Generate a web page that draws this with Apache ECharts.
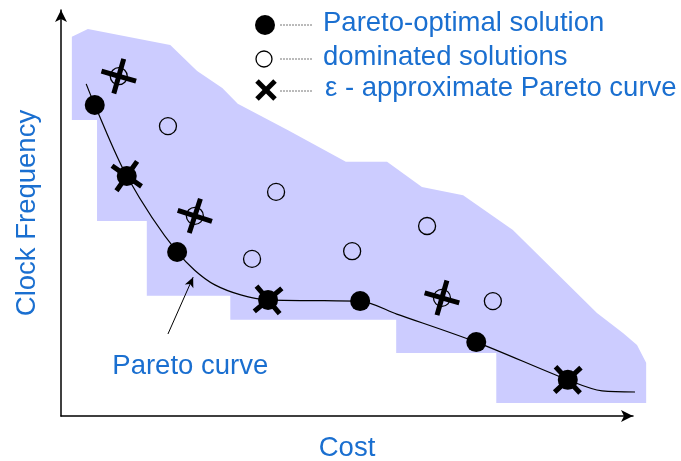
<!DOCTYPE html>
<html>
<head>
<meta charset="utf-8">
<script src="https://cdn.jsdelivr.net/npm/echarts@6/dist/echarts.min.js"></script>
<style>html,body{margin:0;padding:0;background:#fff}#c{width:681px;height:461px}</style>
</head>
<body>
<div id="c"></div>
<script>
// ---- data (arbitrary units: Cost 0..100, Clock Frequency 0..100) ----
var xAxisName = 'Cost';
var yAxisName = 'Clock Frequency';
var legendLabels = ['Pareto-optimal solution', 'dominated solutions', 'ε - approximate Pareto curve'];
var annotationText = 'Pareto curve';

var paretoOptimal = [[5.9,76.6],[11.5,59.1],[20.3,40.4],[36.2,28.6],[52.3,28.3],[72.6,18.2],[88.6,8.9]];
var dominated = [[10.1,83.7],[18.7,71.4],[23.4,49.3],[37.6,55.2],[33.4,38.7],[50.9,40.6],[64.0,46.8],[66.6,29.1],[75.5,28.3]];
var epsApprox = [[10.1,83.7],[11.5,59.1],[23.4,49.3],[36.2,28.6],[66.6,29.1],[88.6,8.9]];
var paretoCurve = [[4.4,81.8],[5.9,76.6],[11.5,59.1],[20.3,40.4],[26.9,32.3],[36.2,28.6],[46.0,28.4],[52.3,28.3],[58.7,25.1],[72.6,18.2],[88.6,8.9],[94.6,6.2],[101.7,5.9]];
var feasibleRegion = [[1.9,93.4],[4.7,95.3],[19.1,91.4],[23.8,85.0],[28.2,80.8],[30.9,76.9],[39.7,70.4],[49.8,62.6],[57.0,62.6],[63.1,56.4],[70.3,54.4],[79.0,45.8],[93.7,25.4],[98.3,20.4],[100.7,17.5],[102.3,13.1],[102.3,3.2],[76.1,3.2],[76.1,15.5],[58.6,15.5],[58.6,23.7],[29.6,23.7],[29.6,29.6],[15.0,29.6],[15.0,48.0],[6.3,48.0],[6.3,72.9],[1.9,72.9]];
var annotationArrow = [[18.7,20.2],[23.1,34.2]];
var annotationPos = [22.6,12.3];

// ---- styles ----
var BLUE = '#1a6fd0';
var FONT = 'Liberation Sans, Arial, Helvetica, sans-serif';
var FS = 27.5;
var epsTilt = [-16,-35,-18,-50,-16,-47];
var plusPath = 'path://M-2.5,-18 L2.5,-18 L2.5,-2.5 L18,-2.5 L18,2.5 L2.5,2.5 L2.5,18 L-2.5,18 L-2.5,2.5 L-18,2.5 L-18,-2.5 L-2.5,-2.5 Z';

var chart = echarts.init(document.getElementById('c'), null, {renderer: 'canvas'});

var option = {
  animation: false,
  backgroundColor: '#fff',
  grid: {left: 61, right: 48, top: 10, bottom: 45, containLabel: false, outerBoundsMode: 'none'},
  xAxis: {
    type: 'value', min: 0, max: 100,
    name: xAxisName, nameLocation: 'middle', nameGap: 18,
    nameTextStyle: {color: BLUE, fontSize: FS, fontFamily: FONT},
    axisLine: {show: true, lineStyle: {color: '#000', width: 1.5}, symbol: ['none','arrow'], symbolSize: [9,12]},
    axisTick: {show: false}, axisLabel: {show: false}, splitLine: {show: false}
  },
  yAxis: {
    type: 'value', min: 0, max: 100,
    name: yAxisName, nameLocation: 'middle', nameGap: 20,
    nameTextStyle: {color: BLUE, fontSize: FS, fontFamily: FONT},
    axisLine: {show: true, lineStyle: {color: '#000', width: 1.5}, symbol: ['none','arrow'], symbolSize: [9,12]},
    axisTick: {show: false}, axisLabel: {show: false}, splitLine: {show: false}
  },
  series: [
    {
      type: 'custom',
      name: 'feasible region',
      clip: false,
      silent: true,
      z: 1,
      data: [0],
      renderItem: function (params, api) {
        var pts = feasibleRegion.map(function (p) { return api.coord(p); });
        return {type: 'polygon', shape: {points: pts}, style: {fill: '#ccccff'}};
      }
    },
    {
      type: 'line',
      name: 'Pareto curve',
      data: paretoCurve,
      smooth: 0.3,
      showSymbol: false,
      clip: false,
      z: 2,
      lineStyle: {color: '#000', width: 1.2},
      markLine: {
        silent: true,
        symbol: ['none','arrow'],
        symbolSize: [7,10],
        lineStyle: {color: '#000', width: 1, type: 'solid'},
        label: {show: false},
        data: [[{coord: annotationArrow[0]}, {coord: annotationArrow[1]}]]
      },
      markPoint: {
        silent: true,
        symbol: 'circle', symbolSize: 0,
        label: {show: true, position: 'inside', formatter: annotationText, color: BLUE, fontSize: FS, fontFamily: FONT},
        data: [{coord: annotationPos}]
      }
    },
    {
      type: 'scatter',
      name: legendLabels[1],
      data: dominated,
      symbol: 'circle',
      symbolSize: 17,
      z: 3,
      itemStyle: {color: 'rgba(0,0,0,0)', borderColor: '#000', borderWidth: 1.3, opacity: 1}
    },
    {
      type: 'scatter',
      name: legendLabels[0],
      data: paretoOptimal,
      symbol: 'circle',
      symbolSize: 20,
      z: 4,
      itemStyle: {color: '#000', opacity: 1}
    },
    {
      type: 'scatter',
      name: legendLabels[2],
      data: epsApprox.map(function (p, i) { return {value: p, symbolRotate: epsTilt[i]}; }),
      symbol: plusPath,
      symbolSize: 36,
      symbolKeepAspect: true,
      z: 5,
      itemStyle: {color: '#000', opacity: 1}
    }
  ],
  graphic: [
    {type: 'circle', shape: {cx: 265, cy: 25, r: 10}, style: {fill: '#000'}, z: 10},
    {type: 'circle', shape: {cx: 264, cy: 59, r: 8}, style: {fill: 'none', stroke: '#000', lineWidth: 1.3}, z: 10},
    {type: 'line', shape: {x1: 257, y1: 81, x2: 275, y2: 99}, style: {stroke: '#000', lineWidth: 5}, z: 10},
    {type: 'line', shape: {x1: 275, y1: 81, x2: 257, y2: 99}, style: {stroke: '#000', lineWidth: 5}, z: 10},
    {type: 'line', shape: {x1: 280, y1: 25, x2: 313, y2: 25}, style: {stroke: '#777', lineWidth: 1, lineDash: [2,1]}, z: 10},
    {type: 'line', shape: {x1: 280, y1: 59, x2: 313, y2: 59}, style: {stroke: '#777', lineWidth: 1, lineDash: [2,1]}, z: 10},
    {type: 'line', shape: {x1: 280, y1: 91, x2: 313, y2: 91}, style: {stroke: '#777', lineWidth: 1, lineDash: [2,1]}, z: 10},
    {type: 'text', x: 323, y: 23, style: {text: legendLabels[0], fill: BLUE, font: FS + 'px ' + FONT, textVerticalAlign: 'middle'}, z: 10},
    {type: 'text', x: 323, y: 57, style: {text: legendLabels[1], fill: BLUE, font: FS + 'px ' + FONT, textVerticalAlign: 'middle'}, z: 10},
    {type: 'text', x: 325, y: 88, style: {text: legendLabels[2], fill: BLUE, font: FS + 'px ' + FONT, textVerticalAlign: 'middle'}, z: 10}
  ]
};
chart.setOption(option);
</script>
</body>
</html>
